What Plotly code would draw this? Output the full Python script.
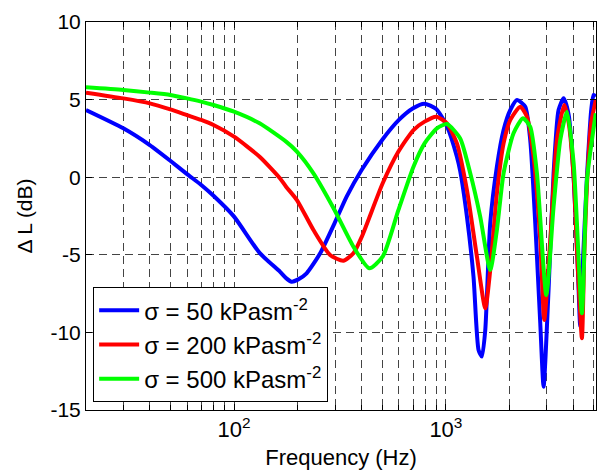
import plotly.graph_objects as go

# ---- data (frequency in Hz, level difference in dB) ----
f_blue = [20, 30, 40, 50, 60, 70, 80, 100, 132, 165, 176, 187, 200, 220, 255, 298, 340, 400, 500, 600,
          700, 790, 900, 1010, 1127, 1168, 1257, 1350, 1426, 1479, 1534, 1619, 1741, 1872, 2014, 2168,
          2369, 2501, 2642, 2789, 2892, 3052, 3224, 3403, 3594, 3800, 4009, 4200, 4306, 4450, 4633, 4850, 4978, 5100]
v_blue = [4.33, 3.15, 2.07, 1.06, 0.2, -0.5, -1.2, -2.54, -4.88, -6.1, -6.5, -6.73, -6.6, -6.19, -4.9, -2.97, -1.25, 0.46, 2.4, 3.69,
          4.44, 4.74, 4.4, 3.3, 1.32, 0.4, -2.54, -6.41, -11.13, -11.56, -9.85, -2.97, 0.68, 3.04, 4.33, 4.97,
          4.54, 2.4, -2.97, -9.41, -13.5, -7.27, 0.25, 4.33, 5.08, 4.0, 0.0, -6.0, -9.6, -5.0, 0.0, 4.3, 5.3, 5.2]

f_red = [20, 30, 40, 50, 60, 70, 80, 100, 132, 165, 176, 198, 237, 284, 328, 366, 401, 503, 597, 703,
         793, 900, 1011, 1127, 1257, 1401, 1534, 1619, 1741, 1872, 2014, 2244, 2413, 2593, 2789, 2913,
         3110, 3343, 3622, 3800, 4009, 4200, 4386, 4500, 4633, 4850, 5100]
v_red = [5.45, 5.08, 4.76, 4.37, 4.0, 3.69, 3.36, 2.61, 1.32, -0.08, -0.61, -1.47, -3.4, -5.01, -5.38, -4.9, -3.83, -0.39, 1.65, 3.04,
         3.58, 3.9, 3.47, 2.18, -0.83, -5.12, -8.45, -5.98, -1.04, 2.18, 3.69, 4.54, 3.9, 1.32, -4.05, -9.2,
         -4.05, 2.4, 4.65, 3.5, 0.0, -6.0, -10.38, -5.0, -0.5, 3.5, 4.97]

f_green = [20, 30, 40, 50, 60, 70, 80, 100, 132, 176, 198, 237, 298, 366, 435, 503, 597, 703, 793, 907,
           1011, 1168, 1303, 1452, 1619, 1741, 1872, 2086, 2311, 2501, 2690, 2979, 3224, 3467, 3729, 4009,
           4386, 4633, 5100]
v_green = [5.79, 5.62, 5.45, 5.3, 5.08, 4.87, 4.65, 4.22, 3.47, 2.29, 1.65, 0.25, -2.11, -4.48, -5.87, -5.12, -2.11, 0.68, 2.18, 3.15,
           3.43, 2.5, 0.25, -2.54, -5.98, -3.4, 0.25, 2.83, 3.8, 3.25, 0.25, -7.6, -1.9, 2.4, 4.22, 0.9,
           -8.77, -0.18, 4.12]

series_names = ["σ = 50 kPasm<sup>-2</sup>", "σ = 200 kPasm<sup>-2</sup>", "σ = 500 kPasm<sup>-2</sup>"]
series_colors = ["#0000FF", "#FF0000", "#00FF00"]

x_major = [100, 1000]
x_major_text = ["10<sup>2</sup>", "10<sup>3</sup>"]
x_minor = [20, 30, 40, 50, 60, 70, 80, 90, 200, 300, 400, 500, 600, 700, 800, 900, 2000, 3000, 4000, 5000]
y_ticks = [-15, -10, -5, 0, 5, 10]
y_tick_text = ["-15", "-10", "-5", "0", "5", "10"]

FONT = "Liberation Sans, Arial, sans-serif"
GRID = "#444444"

fig = go.Figure()
for fx, vy, name, col in zip([f_blue, f_red, f_green], [v_blue, v_red, v_green], series_names, series_colors):
    fig.add_trace(go.Scatter(x=fx, y=vy, mode="lines", name=name,
                             line=dict(color=col, width=4, shape="spline", smoothing=0.6)))

fig.update_layout(
    width=600, height=473,
    margin=dict(l=86, r=4, t=22, b=63),
    paper_bgcolor="white", plot_bgcolor="white",
    font=dict(family=FONT, size=21, color="black"),
    showlegend=True,
    legend=dict(x=0.014, y=0.02, xanchor="left", yanchor="bottom",
                bgcolor="white", bordercolor="black", borderwidth=1,
                font=dict(size=24), tracegroupgap=0, itemwidth=40),
)
fig.update_xaxes(
    type="log", range=[1.30103, 3.7086], automargin=False,
    tickmode="array", tickvals=x_major, ticktext=x_major_text,
    ticks="inside", ticklen=6, tickcolor="black",
    showline=True, linecolor="black", linewidth=1, mirror="ticks",
    showgrid=True, gridcolor=GRID, griddash="8px,5px", gridwidth=1,
    minor=dict(tickmode="array", tickvals=x_minor, ticks="inside", ticklen=5, tickcolor="black",
               showgrid=True, gridcolor=GRID, griddash="8px,5px", gridwidth=1),
    title=dict(text="Frequency (Hz)", font=dict(size=22), standoff=8),
    tickfont=dict(size=22), zeroline=False,
)
fig.update_yaxes(
    range=[-15, 10], automargin=False, tickmode="array", tickvals=y_ticks, ticktext=y_tick_text,
    ticks="inside", ticklen=6, tickcolor="black",
    showline=True, linecolor="black", linewidth=1, mirror="ticks",
    showgrid=True, gridcolor=GRID, griddash="8px,5px", gridwidth=1,
    zeroline=False,
    title=dict(text="Δ L (dB)", font=dict(size=21), standoff=12),
    tickfont=dict(size=21),
)

fig.write_html("out.html", config={"displayModeBar": False},
               post_script="document.body.style.margin='0';document.body.style.overflow='hidden';")
